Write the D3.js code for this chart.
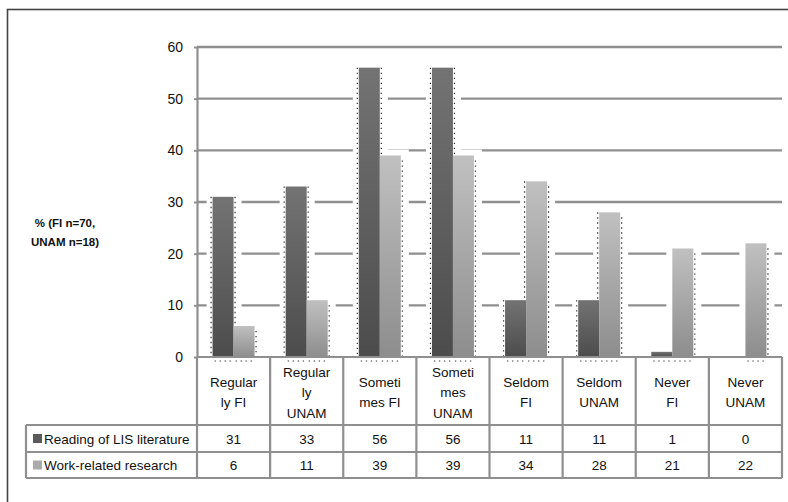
<!DOCTYPE html>
<html>
<head>
<meta charset="utf-8">
<script src="https://cdn.jsdelivr.net/npm/d3@7"></script>
<style>
  html, body { margin: 0; padding: 0; background: #fff; }
  svg { display: block; font-family: "Liberation Sans", Arial, sans-serif; }
</style>
</head>
<body>
<svg id="chart" width="788" height="502"></svg>
<script>
// Category labels (with their manual line breaks), series and ticks
const categories = [
  "Regular|ly FI", "Regular|ly|UNAM", "Someti|mes FI", "Someti|mes|UNAM",
  "Seldom|FI", "Seldom|UNAM", "Never|FI", "Never|UNAM"
];
const seriesNames = ["Reading of LIS literature", "Work-related research"];
const readingLIS = [31, 33, 56, 56, 11, 11, 1, 0];
const workResearch = [6, 11, 39, 39, 34, 28, 21, 22];
const yTicks = [0, 10, 20, 30, 40, 50, 60];
const yLabelLines = ["% (FI n=70,", "UNAM n=18)"];

const series = [readingLIS, workResearch];

const svg = d3.select("#chart");
const plot = { left: 197, right: 782, top: 47, bottom: 357 };
const table = { legendLeft: 26, catBottom: 425, row1Bottom: 452, row2Bottom: 478 };
const gridColor = "#8f8f8f";

// Gradients for the two series
const defs = svg.append("defs");
const gradStops = [["#737373", "#4c4c4c"], ["#c0c0c0", "#8d8d8d"]];
gradStops.forEach((s, i) => {
  const g = defs.append("linearGradient").attr("id", "grad" + i)
    .attr("x1", 0).attr("y1", 0).attr("x2", 0).attr("y2", 1);
  g.append("stop").attr("offset", "0%").attr("stop-color", s[0]);
  g.append("stop").attr("offset", "100%").attr("stop-color", s[1]);
});

// Outer frame
svg.append("rect")
  .attr("x", 7.5).attr("y", 9.5).attr("width", 820).attr("height", 620)
  .attr("fill", "none").attr("stroke", "#444").attr("stroke-width", 1.6);

// Scales
const x0 = d3.scaleBand().domain(d3.range(categories.length))
  .range([plot.left, plot.right]).paddingInner(0).paddingOuter(0);
const groupW = 42;
const x1 = d3.scaleBand().domain([0, 1]).range([0, groupW]).padding(0);
const groupOffset = (x0.bandwidth() - groupW) / 2;
const y = d3.scaleLinear().domain([0, 60]).range([plot.bottom, plot.top]);

// Gridlines on the back wall
svg.append("g").selectAll("line")
  .data(yTicks.filter(t => t > 0))
  .join("line")
  .attr("x1", plot.left).attr("x2", plot.right)
  .attr("y1", d => y(d)).attr("y2", d => y(d))
  .attr("stroke", gridColor).attr("stroke-width", 2.4);

// Value axis
const axis = svg.append("g")
  .attr("transform", `translate(${plot.left},0)`)
  .call(d3.axisLeft(y).tickValues(yTicks).tickSize(3).tickSizeOuter(0).tickPadding(11));
axis.select(".domain").attr("stroke", gridColor).attr("stroke-width", 2.2);
axis.selectAll(".tick line").attr("stroke", gridColor).attr("stroke-width", 2);
axis.selectAll(".tick text")
  .attr("font-family", "Liberation Sans, Arial, sans-serif")
  .attr("font-size", 14).attr("fill", "#111");

// Flattened bar records
const bars = [];
categories.forEach((c, i) => {
  series.forEach((s, k) => {
    bars.push({ i, k, v: s[i], x: x0(i) + groupOffset + x1(k), w: x1.bandwidth() });
  });
});

// Depth of each column hides the gridlines behind it
svg.append("g").selectAll("rect")
  .data(bars.filter(b => b.v > 0))
  .join("rect")
  .attr("x", b => b.x - 6).attr("width", b => b.w + 14)
  .attr("y", b => y(b.v) - 6).attr("height", b => plot.bottom - y(b.v) + 6)
  .attr("fill", "#fff");

// Columns
svg.append("g").selectAll("rect")
  .data(bars.filter(b => b.v > 0))
  .join("rect")
  .attr("x", b => b.x).attr("width", b => b.w)
  .attr("y", b => y(b.v)).attr("height", b => plot.bottom - y(b.v))
  .attr("fill", b => `url(#grad${b.k})`);

// Dotted edges of the column silhouettes
const dots = svg.append("g").attr("stroke", "#333").attr("stroke-width", 1.2)
  .attr("stroke-dasharray", "1.3,3.7").attr("fill", "none");
categories.forEach((c, i) => {
  const a = readingLIS[i], b = workResearch[i];
  const xa = x0(i) + groupOffset + x1(0), xb = x0(i) + groupOffset + x1(1), w = x1.bandwidth();
  const seg = (xx, yTop, yBot) => {
    if (yBot - yTop > 2) dots.append("line").attr("x1", xx).attr("x2", xx).attr("y1", yTop).attr("y2", yBot);
  };
  if (a > 1) seg(xa - 1.5, y(a), plot.bottom);
  if (b > 0) seg(xb + w + 1.5, y(b) + 5, plot.bottom);
  if (a > b && b > 0) seg(xa + w + 1.5, y(a), y(b));
  if (b > a && a > 1) seg(xb - 1.5, y(b), y(a));
  // stubs under the floor
  [[a, xa], [b, xb]].forEach(([v, xx]) => {
    if (v > 0) dots.append("line").attr("x1", xx + 2).attr("x2", xx + w - 2)
      .attr("y1", plot.bottom + 4).attr("y2", plot.bottom + 4);
  });
});

// Data table
const tg = svg.append("g").attr("stroke", gridColor).attr("stroke-width", 2.2);
[[plot.left, plot.bottom], [table.legendLeft, table.catBottom],
 [table.legendLeft, table.row1Bottom], [table.legendLeft, table.row2Bottom]]
  .forEach(([xs, yy]) => tg.append("line").attr("x1", xs).attr("x2", plot.right).attr("y1", yy).attr("y2", yy));
d3.range(categories.length + 1).forEach(j => {
  const xx = plot.left + j * x0.bandwidth();
  tg.append("line").attr("x1", xx).attr("x2", xx).attr("y1", plot.bottom).attr("y2", table.row2Bottom);
});
tg.append("line").attr("x1", table.legendLeft).attr("x2", table.legendLeft)
  .attr("y1", table.catBottom).attr("y2", table.row2Bottom);

const txt = svg.append("g").attr("font-size", 13.5).attr("fill", "#111").attr("text-anchor", "middle");
const catMid = (plot.bottom + table.catBottom) / 2 + 1;
categories.forEach((c, i) => {
  const lines = c.split("|");
  const cx = x0(i) + x0.bandwidth() / 2;
  lines.forEach((ln, li) => {
    txt.append("text").attr("x", cx)
      .attr("y", catMid + (li - (lines.length - 1) / 2) * 20.5 + 5)
      .text(ln);
  });
});
const rowMids = [(table.catBottom + table.row1Bottom) / 2, (table.row1Bottom + table.row2Bottom) / 2];
series.forEach((s, k) => {
  s.forEach((v, i) => {
    txt.append("text").attr("x", x0(i) + x0.bandwidth() / 2).attr("y", rowMids[k] + 5).text(v);
  });
});

// Legend keys inside the table
const swatch = ["#5a5a5a", "#ababab"];
seriesNames.forEach((n, k) => {
  svg.append("rect").attr("x", 33).attr("y", rowMids[k] - 4.5).attr("width", 9).attr("height", 9)
    .attr("fill", swatch[k]);
  svg.append("text").attr("x", 44).attr("y", rowMids[k] + 5)
    .attr("font-size", 13.5).attr("fill", "#111").text(n);
});

// Value axis title
yLabelLines.forEach((ln, li) => {
  svg.append("text").attr("x", 65).attr("y", 227 + li * 18.5)
    .attr("text-anchor", "middle").attr("font-size", 11.5).attr("font-weight", "bold")
    .attr("fill", "#111").text(ln);
});
</script>
</body>
</html>
